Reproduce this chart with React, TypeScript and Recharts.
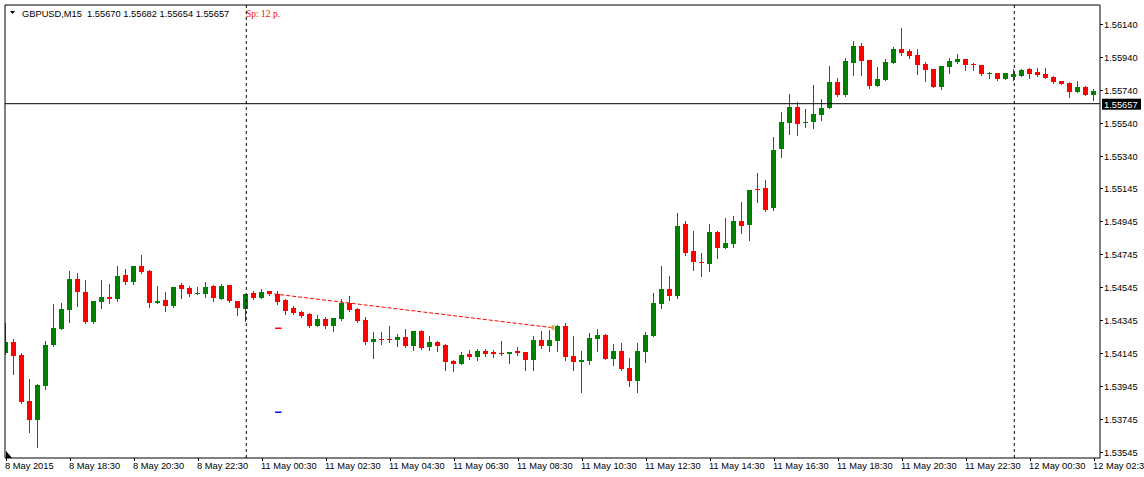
import React from 'react';
import { ComposedChart, Bar, XAxis, YAxis, ReferenceLine, ReferenceDot } from 'recharts';

// ---- Data (GBPUSD M15, 8 May 2015 16:30 .. 12 May 2015 02:30) ----
const opens = [
  1.54144, 1.54215, 1.54134, 1.53853, 1.53741, 1.53948, 1.54194, 1.54293, 1.54409, 1.54595,
  1.54517, 1.54334, 1.54457, 1.54485, 1.54473, 1.54619, 1.54576, 1.54673, 1.54643, 1.54449,
  1.54467, 1.54431, 1.54558, 1.54540, 1.54504, 1.54504, 1.54554, 1.54473, 1.54558, 1.54461,
  1.54413, 1.54510, 1.54479, 1.54522, 1.54504, 1.54467, 1.54419, 1.54395, 1.54382, 1.54310,
  1.54351, 1.54310, 1.54351, 1.54449, 1.54413, 1.54346, 1.54215, 1.54231, 1.54231, 1.54227,
  1.54243, 1.54190, 1.54279, 1.54184, 1.54213, 1.54195, 1.54099, 1.54081, 1.54140, 1.54122,
  1.54158, 1.54154, 1.54148, 1.54142, 1.54158, 1.54152, 1.54104, 1.54225, 1.54190, 1.54221,
  1.54310, 1.54130, 1.54093, 1.54099, 1.54233, 1.54255, 1.54112, 1.54158, 1.54055, 1.53978,
  1.54154, 1.54251, 1.54445, 1.54534, 1.54493, 1.54928, 1.54764, 1.54699, 1.54687, 1.54879,
  1.54784, 1.54808, 1.54946, 1.54924, 1.55140, 1.55146, 1.55027, 1.55384, 1.55542, 1.55637,
  1.55542, 1.55548, 1.55590, 1.55631, 1.55788, 1.55712, 1.55905, 1.56007, 1.55922, 1.55764,
  1.55801, 1.55905, 1.55989, 1.55976, 1.55952, 1.55898, 1.55867, 1.55758, 1.55879, 1.55910,
  1.55928, 1.55896, 1.55892, 1.55839, 1.55843, 1.55807, 1.55819, 1.55825, 1.55867, 1.55849,
  1.55837, 1.55819, 1.55795, 1.55782, 1.55728, 1.55758, 1.55710,
];
const highs = [
  1.54326, 1.54231, 1.54146, 1.53989, 1.53958, 1.54218, 1.54443, 1.54449, 1.54643, 1.54631,
  1.54587, 1.54461, 1.54588, 1.54564, 1.54673, 1.54655, 1.54673, 1.54740, 1.54649, 1.54552,
  1.54516, 1.54546, 1.54569, 1.54552, 1.54546, 1.54576, 1.54558, 1.54564, 1.54558, 1.54461,
  1.54504, 1.54522, 1.54534, 1.54522, 1.54522, 1.54473, 1.54431, 1.54401, 1.54388, 1.54376,
  1.54364, 1.54358, 1.54473, 1.54492, 1.54419, 1.54364, 1.54273, 1.54273, 1.54310, 1.54261,
  1.54292, 1.54279, 1.54285, 1.54249, 1.54219, 1.54201, 1.54105, 1.54151, 1.54164, 1.54170,
  1.54170, 1.54164, 1.54219, 1.54152, 1.54182, 1.54152, 1.54249, 1.54279, 1.54285, 1.54316,
  1.54328, 1.54249, 1.54158, 1.54267, 1.54292, 1.54261, 1.54201, 1.54207, 1.54118, 1.54207,
  1.54273, 1.54510, 1.54673, 1.54613, 1.54995, 1.54946, 1.54885, 1.54752, 1.54928, 1.54885,
  1.54964, 1.54976, 1.55061, 1.55134, 1.55237, 1.55195, 1.55455, 1.55607, 1.55716, 1.55667,
  1.55625, 1.55770, 1.55685, 1.55885, 1.55813, 1.55934, 1.56037, 1.56025, 1.55922, 1.55879,
  1.55928, 1.56001, 1.56116, 1.55989, 1.55989, 1.55910, 1.55867, 1.55885, 1.55934, 1.55958,
  1.55928, 1.55904, 1.55892, 1.55849, 1.55843, 1.55843, 1.55867, 1.55867, 1.55873, 1.55873,
  1.55873, 1.55825, 1.55795, 1.55788, 1.55795, 1.55764, 1.55746,
];
const lows = [
  1.54140, 1.54019, 1.53845, 1.53669, 1.53578, 1.53930, 1.54190, 1.54293, 1.54336, 1.54433,
  1.54330, 1.54330, 1.54421, 1.54449, 1.54461, 1.54566, 1.54566, 1.54631, 1.54427, 1.54449,
  1.54402, 1.54427, 1.54481, 1.54492, 1.54504, 1.54485, 1.54461, 1.54471, 1.54455, 1.54376,
  1.54340, 1.54473, 1.54479, 1.54498, 1.54443, 1.54382, 1.54382, 1.54364, 1.54306, 1.54310,
  1.54298, 1.54279, 1.54346, 1.54401, 1.54334, 1.54201, 1.54118, 1.54202, 1.54215, 1.54190,
  1.54184, 1.54166, 1.54172, 1.54166, 1.54160, 1.54045, 1.54039, 1.54081, 1.54110, 1.54104,
  1.54128, 1.54122, 1.54136, 1.54085, 1.54134, 1.54045, 1.54045, 1.54178, 1.54160, 1.54160,
  1.54105, 1.54045, 1.53912, 1.54081, 1.54160, 1.54112, 1.54075, 1.54045, 1.53948, 1.53912,
  1.54093, 1.54251, 1.54421, 1.54469, 1.54481, 1.54742, 1.54651, 1.54615, 1.54645, 1.54724,
  1.54784, 1.54790, 1.54875, 1.54833, 1.55061, 1.55009, 1.55015, 1.55336, 1.55473, 1.55469,
  1.55518, 1.55512, 1.55558, 1.55631, 1.55705, 1.55705, 1.55831, 1.55831, 1.55752, 1.55764,
  1.55801, 1.55905, 1.55952, 1.55936, 1.55839, 1.55795, 1.55758, 1.55746, 1.55845, 1.55905,
  1.55861, 1.55861, 1.55831, 1.55813, 1.55801, 1.55807, 1.55801, 1.55825, 1.55813, 1.55825,
  1.55813, 1.55782, 1.55776, 1.55698, 1.55728, 1.55710, 1.55679,
];
const closes = [
  1.54215, 1.54130, 1.53852, 1.53741, 1.53952, 1.54194, 1.54295, 1.54413, 1.54595, 1.54517,
  1.54334, 1.54461, 1.54485, 1.54473, 1.54613, 1.54576, 1.54673, 1.54637, 1.54451, 1.54461,
  1.54433, 1.54546, 1.54534, 1.54504, 1.54510, 1.54546, 1.54481, 1.54552, 1.54461, 1.54421,
  1.54504, 1.54479, 1.54516, 1.54504, 1.54455, 1.54401, 1.54388, 1.54370, 1.54310, 1.54351,
  1.54310, 1.54358, 1.54449, 1.54407, 1.54340, 1.54213, 1.54231, 1.54227, 1.54225, 1.54243,
  1.54190, 1.54279, 1.54178, 1.54213, 1.54190, 1.54093, 1.54081, 1.54134, 1.54122, 1.54158,
  1.54142, 1.54142, 1.54142, 1.54152, 1.54146, 1.54104, 1.54225, 1.54190, 1.54225, 1.54310,
  1.54124, 1.54093, 1.54104, 1.54237, 1.54255, 1.54112, 1.54158, 1.54051, 1.53978, 1.54158,
  1.54255, 1.54449, 1.54534, 1.54493, 1.54918, 1.54754, 1.54699, 1.54690, 1.54879, 1.54784,
  1.54813, 1.54946, 1.54918, 1.55134, 1.55134, 1.55013, 1.55376, 1.55546, 1.55637, 1.55536,
  1.55548, 1.55595, 1.55631, 1.55788, 1.55712, 1.55916, 1.56007, 1.55916, 1.55764, 1.55807,
  1.55910, 1.55989, 1.55964, 1.55948, 1.55893, 1.55861, 1.55758, 1.55885, 1.55916, 1.55928,
  1.55892, 1.55892, 1.55837, 1.55845, 1.55807, 1.55843, 1.55837, 1.55861, 1.55837, 1.55831,
  1.55813, 1.55788, 1.55776, 1.55728, 1.55758, 1.55710, 1.55734,
];

const timeTickIdx = [0, 8, 16, 24, 32, 40, 48, 56, 64, 72, 80, 88, 96, 104, 112, 120, 128, 136];
const timeTickLabels = [
  '8 May 2015', '8 May 18:30', '8 May 20:30', '8 May 22:30', '11 May 00:30', '11 May 02:30',
  '11 May 04:30', '11 May 06:30', '11 May 08:30', '11 May 10:30', '11 May 12:30', '11 May 14:30',
  '11 May 16:30', '11 May 18:30', '11 May 20:30', '11 May 22:30', '12 May 00:30', '12 May 02:30',
];
const priceTicks = [
  1.5614, 1.5594, 1.5574, 1.5554, 1.5534, 1.55145, 1.54945, 1.54745, 1.54545, 1.54345,
  1.54145, 1.53945, 1.53745, 1.53545,
];
const separators = [30, 126];
const bidPrice = 1.55657;
const trendLine = [
  { x: 33.5, y: 1.54504 },
  { x: 68.175, y: 1.543 },
];
const redMark = [
  { x: 33.6, y: 1.54296 },
  { x: 34.4, y: 1.54296 },
];
const blueMark = [
  { x: 33.6, y: 1.53787 },
  { x: 34.4, y: 1.53787 },
];
const headerText = 'GBPUSD,M15  1.55670 1.55682 1.55654 1.55657';
const spreadText = 'Sp: 12 p.';

const xDomain: [number, number] = [-0.1625, 136.7125];
const yDomain: [number, number] = [1.535097, 1.562552];

const data = opens.map((o, i) => ({
  i,
  open: o,
  high: highs[i],
  low: lows[i],
  close: closes[i],
  range: [lows[i], highs[i]],
}));

const FONT = '"Liberation Sans", Arial, sans-serif';
const UP = '#008000';
const DOWN = '#FF0000';

const Candle = (props: any) => {
  const { x, y, width, height, payload } = props;
  if (x == null || y == null || payload == null) return null;
  const top = Math.min(y, y + height);
  const bot = Math.max(y, y + height);
  const hi = payload.high;
  const lo = payload.low;
  const span = hi - lo || 1e-9;
  const py = (p: number) => top + ((hi - p) / span) * (bot - top);
  const cx = x + width / 2;
  const wx = Math.floor(cx);
  const up = payload.close >= payload.open;
  const color = up ? UP : DOWN;
  const bTop = Math.round(py(Math.max(payload.open, payload.close)));
  let bBot = Math.round(py(Math.min(payload.open, payload.close)));
  if (bBot - bTop < 1) bBot = bTop + 1;
  const wTop = Math.round(top);
  const wBot = Math.round(bot) + 1;
  return (
    <g>
      <rect x={wx} y={wTop} width={1} height={Math.max(1, wBot - wTop)} fill={color} />
      <rect x={wx - 2} y={bTop} width={5} height={bBot - bTop} fill={color} />
    </g>
  );
};

const TimeTick = (props: any) => {
  const { x, y, payload } = props;
  const k = timeTickIdx.indexOf(payload.value);
  const label = k >= 0 ? timeTickLabels[k] : '';
  const tx = Math.floor(x);
  return (
    <g>
      <rect x={tx} y={y} width={1} height={3} fill="#000" />
      <text x={tx - 1} y={y + 11} fontFamily={FONT} fontSize={9.3} fill="#000" textAnchor="start">
        {label}
      </text>
    </g>
  );
};

const PriceTick = (props: any) => {
  const { x, y, payload } = props;
  const ty = Math.round(y);
  return (
    <g>
      <rect x={x} y={ty} width={3} height={1} fill="#000" />
      <text x={x + 4} y={ty + 3.8} fontFamily={FONT} fontSize={9.3} fill="#000" textAnchor="start">
        {Number(payload.value).toFixed(5)}
      </text>
    </g>
  );
};

const BidLabel = (props: any) => {
  const vb = props.viewBox || {};
  const ax = (vb.x || 0) + (vb.width || 0);
  const ly = vb.y || 0;
  return (
    <g>
      <rect x={ax + 2} y={ly - 5} width={39} height={11} fill="#000" />
      <text x={ax + 4} y={ly + 3.8} fontFamily={FONT} fontSize={9.3} fill="#fff" textAnchor="start">
        {bidPrice.toFixed(5)}
      </text>
    </g>
  );
};

const ArrowShape = (props: any) => {
  const { cx, cy } = props;
  if (cx == null || cy == null) return null;
  return (
    <polygon
      points={`${cx - 1.5},${cy} ${cx + 2.5},${cy - 3.5} ${cx + 2.5},${cy + 3.5}`}
      fill="#DAA520"
    />
  );
};

export default function App() {
  return (
    <div
      style={{
        position: 'fixed',
        left: 0,
        top: 0,
        width: 1144,
        height: 477,
        background: '#fff',
        overflow: 'hidden',
      }}
    >
      <ComposedChart
        width={1144}
        height={477}
        data={data}
        margin={{ top: 5, right: 0, bottom: 0, left: 5 }}
      >
        <XAxis
          dataKey="i"
          type="number"
          domain={xDomain}
          allowDataOverflow
          ticks={timeTickIdx}
          interval={0}
          height={19}
          tickSize={0}
          tickMargin={0}
          tickLine={false}
          axisLine={{ stroke: '#000' }}
          tick={<TimeTick />}
        />
        <YAxis
          orientation="right"
          type="number"
          domain={yDomain}
          allowDataOverflow
          ticks={priceTicks}
          interval={0}
          width={44}
          tickSize={0}
          tickMargin={0}
          tickLine={false}
          axisLine={{ stroke: '#000' }}
          tick={<PriceTick />}
        />
        <ReferenceLine x={xDomain[0]} stroke="#000" ifOverflow="extendDomain" />
        <ReferenceLine y={yDomain[1]} stroke="#000" ifOverflow="extendDomain" />
        {separators.map((s) => (
          <ReferenceLine key={s} x={s} stroke="#000" strokeDasharray="3 3" />
        ))}
        <ReferenceLine y={bidPrice} stroke="#000" label={<BidLabel />} />
        <ReferenceLine segment={trendLine} stroke="#FF0000" strokeDasharray="4 2" />
        <ReferenceLine segment={redMark} stroke="#FF0000" strokeWidth={1.5} />
        <ReferenceLine segment={blueMark} stroke="#0000FF" strokeWidth={1.5} />
        <Bar dataKey="range" shape={<Candle />} barSize={5} isAnimationActive={false} />
        <ReferenceDot x={trendLine[1].x} y={trendLine[1].y} r={3} shape={<ArrowShape />} />
      </ComposedChart>
      <svg
        style={{ position: 'absolute', left: 0, top: 0, pointerEvents: 'none' }}
        width={1144}
        height={477}
      >
        <polygon points="10,11 15,11 12.5,14" fill="#000" />
        <polygon points="6,451 6,458 12,458" fill="#000" />
        <text x={22} y={16.7} fontFamily={FONT} fontSize={9.3} fill="#000" style={{ whiteSpace: 'pre' }}>
          {headerText}
        </text>
        <text
          x={246}
          y={16.7}
          fontFamily='"Liberation Serif", "Times New Roman", serif'
          fontSize={9.5}
          fill="#FF0000"
        >
          {spreadText}
        </text>
      </svg>
    </div>
  );
}
